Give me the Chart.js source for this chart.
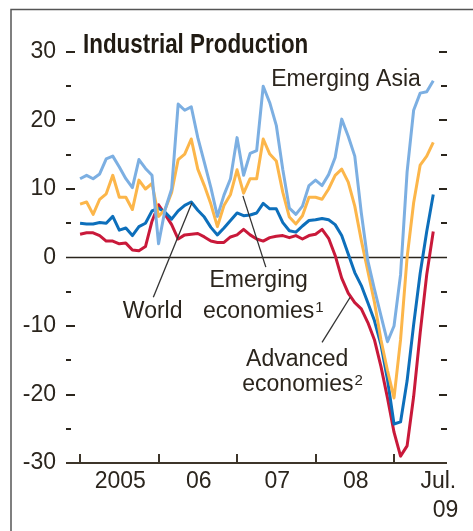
<!DOCTYPE html>
<html>
<head>
<meta charset="utf-8">
<script src="https://cdn.jsdelivr.net/npm/chart.js@4.4.1/dist/chart.umd.min.js"></script>
<style>
  html, body { margin: 0; padding: 0; background: #fff; }
  canvas { display: block; }
</style>
</head>
<body>
<canvas id="chart" width="473" height="531"></canvas>
<script>
// Mensuel, janv. 2005 à juil. 2009
const months = [
  "2005-01", "2005-02", "2005-03", "2005-04", "2005-05", "2005-06", "2005-07", "2005-08", "2005-09", "2005-10", "2005-11", "2005-12",
  "2006-01", "2006-02", "2006-03", "2006-04", "2006-05", "2006-06", "2006-07", "2006-08", "2006-09", "2006-10", "2006-11", "2006-12",
  "2007-01", "2007-02", "2007-03", "2007-04", "2007-05", "2007-06", "2007-07", "2007-08", "2007-09", "2007-10", "2007-11", "2007-12",
  "2008-01", "2008-02", "2008-03", "2008-04", "2008-05", "2008-06", "2008-07", "2008-08", "2008-09", "2008-10", "2008-11", "2008-12",
  "2009-01", "2009-02", "2009-03", "2009-04", "2009-05", "2009-06", "2009-07"
];

const emergingAsia = [
  11.5, 12.0, 11.5, 12.2, 14.4, 14.8, 13.2, 11.5, 10.2, 14.3, 13.0, 12.0,
  2.0, 7.0, 10.0, 22.4, 21.5, 22.0, 17.5, 13.9, 10.2, 6.0, 9.1, 11.5,
  17.5, 12.0, 15.2, 15.6, 25.0, 22.6, 19.3, 12.8, 7.2, 6.3, 7.5, 10.5,
  11.3, 10.5, 12.1, 14.6, 20.2, 17.7, 14.8, 6.5, -0.5, -4.6, -8.5, -12.3,
  -10.0, -2.5, 12.5, 21.5, 24.0, 24.2, 25.8
];

const emergingEconomies = [
  7.8, 8.1, 6.3, 8.5, 9.3, 12.0, 8.8, 8.8, 7.0, 11.3, 10.0, 10.8,
  6.0, 7.0, 9.5, 14.3, 15.1, 17.3, 12.9, 10.5, 7.8, 4.5, 7.6, 9.2,
  12.8, 9.4, 11.5, 11.5, 17.3, 15.1, 14.1, 9.5, 5.9, 4.9, 6.1, 8.8,
  8.8, 8.5, 10.0, 12.0, 12.9, 11.0, 7.5, 2.5, -2.0, -6.5, -12.0, -16.5,
  -20.5, -12.0, 0.0, 8.0, 13.5, 14.8, 16.8
];

const world = [
  5.0, 4.9, 4.9, 5.1, 5.0, 6.0, 4.0, 4.3, 3.2, 4.5, 5.0, 6.8,
  7.2, 6.6, 5.6, 6.8, 7.6, 8.1, 6.9, 5.9, 4.4, 3.3, 4.3, 5.4,
  6.5, 6.1, 6.2, 6.5, 7.9, 7.1, 7.1, 5.1, 3.9, 3.7, 4.6, 5.4,
  5.5, 5.7, 5.5, 4.8, 3.2, 0.5, -2.2, -4.1, -6.6, -9.2, -12.7, -17.8,
  -24.3, -24.0, -18.0, -9.8, -2.3, 3.8, 9.2
];

const advanced = [
  3.4, 3.6, 3.6, 3.2, 2.4, 2.4, 2.0, 2.1, 1.1, 1.0, 1.6, 5.3,
  7.7, 6.3, 4.8, 2.7, 3.3, 3.4, 3.5, 3.0, 2.4, 2.2, 2.2, 3.0,
  3.3, 4.1, 3.3, 2.7, 2.4, 2.9, 3.1, 3.2, 2.9, 3.2, 2.7, 3.2,
  3.4, 4.1, 2.8, 0.3, -3.0, -5.2, -6.6, -7.5, -9.5, -12.0, -15.9, -20.5,
  -25.5, -29.0, -27.5, -20.3, -11.0, -2.5, 3.8
];

// Étiquettes de l'axe x
const yearLabels = ["2005", "06", "07", "08"];
const yearLabelMonths = ["2005-07", "2006-07", "2007-07", "2008-07"];
const lastLabel = ["Jul.", "09"];

// Annotations (coordonnées en mois / %)
const notes = [
  { text: "Emerging Asia", at: [52.1, 25.0], align: "right" },
  { text: "World", at: [11.1, -8.8], align: "center" },
  { text: "Emerging", at: [27.3, -4.3], align: "center" },
  { text: "economies", sup: "1", at: [18.8, -8.8], align: "left" },
  { text: "Advanced", at: [33.2, -15.8], align: "center" },
  { text: "economies", sup: "2", at: [24.8, -19.5], align: "left" }
];
const leaders = [
  [[11.2, -5.8], [17.1, 8.0]],
  [[24.9, 9.0], [28.4, -1.4]],
  [[37.0, -12.4], [41.3, -5.8]]
];

const FONT = '"Liberation Sans", Arial, sans-serif';
const INK = "#2b251d";

const toPoints = arr => arr.map((v, i) => ({ x: i, y: v }));

const decor = {
  id: "decor",
  beforeDraw(chart) {
    const ctx = chart.ctx;
    ctx.save();
    ctx.fillStyle = "#fff";
    ctx.fillRect(0, 0, chart.width, chart.height);
    // cadre
    ctx.strokeStyle = "#555";
    ctx.lineWidth = 1.5;
    ctx.beginPath();
    ctx.moveTo(11, chart.height);
    ctx.lineTo(11, 9.5);
    ctx.lineTo(chart.width, 9.5);
    ctx.stroke();
    ctx.restore();
  },
  beforeDatasetsDraw(chart) {
    const { ctx, chartArea: a, scales: { x, y } } = chart;
    ctx.save();
    ctx.fillStyle = INK;
    // petits tirets gauche / droite
    for (let v = -25; v <= 30; v += 5) {
      if (v === 0) continue;
      const py = Math.round(y.getPixelForValue(v)) - 1;
      const major = v % 10 === 0;
      ctx.fillRect(a.left, py, major ? 9 : 5, 2);
      ctx.fillRect(a.right - (major ? 8 : 6), py, major ? 8 : 6, 2);
    }
    // ligne du zéro
    ctx.strokeStyle = INK;
    ctx.lineWidth = 1.5;
    const y0 = y.getPixelForValue(0);
    ctx.beginPath();
    ctx.moveTo(a.left, y0);
    ctx.lineTo(a.right, y0);
    ctx.stroke();
    // axe du bas
    ctx.strokeStyle = "#3d352a";
    ctx.lineWidth = 2;
    ctx.beginPath();
    ctx.moveTo(a.left, a.bottom);
    ctx.lineTo(a.right, a.bottom);
    ctx.stroke();
    // graduations annuelles
    months.forEach((m, i) => {
      if (!m.endsWith("-01")) return;
      const px = Math.round(x.getPixelForValue(i));
      ctx.fillStyle = "#3d352a";
      ctx.fillRect(px - 1, a.bottom - 9, 2, 9);
    });
    ctx.restore();
  },
  afterDatasetsDraw(chart) {
    const { ctx, chartArea: a, scales: { x, y } } = chart;
    ctx.save();
    // lignes de rappel
    ctx.strokeStyle = "#333";
    ctx.lineWidth = 1.3;
    for (const [p, q] of leaders) {
      ctx.beginPath();
      ctx.moveTo(x.getPixelForValue(p[0]), y.getPixelForValue(p[1]));
      ctx.lineTo(x.getPixelForValue(q[0]), y.getPixelForValue(q[1]));
      ctx.stroke();
    }
    // notes
    ctx.fillStyle = INK;
    ctx.textBaseline = "alphabetic";
    for (const n of notes) {
      const px = x.getPixelForValue(n.at[0]);
      const py = y.getPixelForValue(n.at[1]);
      ctx.font = "23px " + FONT;
      ctx.textAlign = n.align;
      ctx.fillText(n.text, px, py);
      if (n.sup) {
        const w = ctx.measureText(n.text).width;
        ctx.font = "15px " + FONT;
        ctx.textAlign = "left";
        ctx.fillText(n.sup, px + w + 1, py - 6);
      }
    }
    // titre
    ctx.save();
    ctx.fillStyle = "#211b13";
    ctx.font = "bold 28px " + FONT;
    ctx.textAlign = "left";
    ctx.translate(a.left + 17, a.top + 0.5);
    ctx.scale(0.8, 1);
    ctx.fillText("Industrial Production", 0, 0);
    ctx.restore();
    // étiquettes de l'axe x
    ctx.font = "23px " + FONT;
    ctx.textAlign = "center";
    yearLabels.forEach((t, k) => {
      const px = x.getPixelForValue(months.indexOf(yearLabelMonths[k]));
      ctx.fillText(t, px + 1, a.bottom + 25);
    });
    ctx.textAlign = "right";
    const pLast = x.getPixelForValue(months.length - 1);
    ctx.fillText(lastLabel[0], pLast + 23, a.bottom + 25);
    ctx.fillText(lastLabel[1], pLast + 25, a.bottom + 54);
    ctx.restore();
  }
};

const line = (label, data, color) => ({
  label,
  data: toPoints(data),
  borderColor: color,
  borderWidth: 3,
  borderJoinStyle: "round",
  tension: 0,
  pointRadius: 0,
  fill: false
});

new Chart(document.getElementById("chart").getContext("2d"), {
  type: "line",
  data: {
    datasets: [
      line("Emerging Asia", emergingAsia, "#7cafe2"),
      line("Emerging economies", emergingEconomies, "#fcb64a"),
      line("World", world, "#0d6fbb"),
      line("Advanced economies", advanced, "#c9193a")
    ]
  },
  plugins: [decor],
  options: {
    responsive: false,
    animation: false,
    devicePixelRatio: 1,
    layout: { padding: { left: 0, right: 26, top: 52, bottom: 68 } },
    plugins: {
      legend: { display: false },
      title: { display: false },
      tooltip: { enabled: false }
    },
    scales: {
      x: {
        type: "linear",
        min: -2.15,
        max: 56.1,
        display: false
      },
      y: {
        min: -30,
        max: 30,
        afterFit(scale) { scale.width = 66; },
        grid: { display: false, drawTicks: false },
        border: { display: false },
        ticks: {
          stepSize: 10,
          padding: 10,
          color: INK,
          font: { family: FONT, size: 23 }
        }
      }
    }
  }
});
</script>
</body>
</html>
